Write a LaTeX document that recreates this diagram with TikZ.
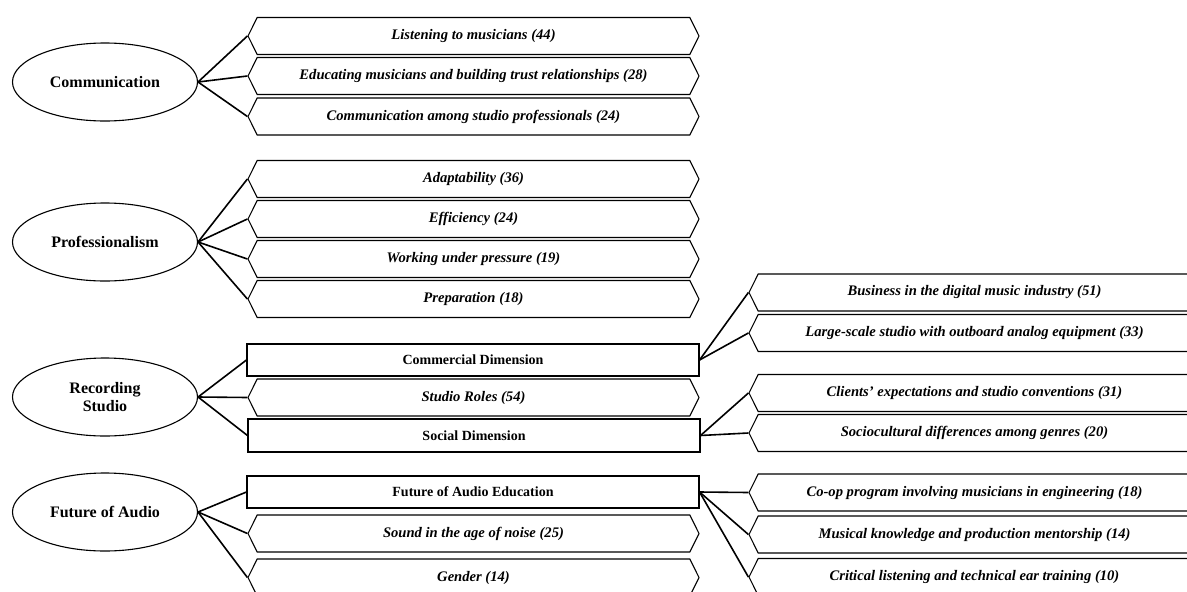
\documentclass[tikz,border=0pt]{standalone}
\usepackage{fontspec}
\setmainfont{Liberation Serif}
\usetikzlibrary{shapes.geometric,shapes.symbols}
\tikzset{
  theme/.style={draw, ellipse, line width=1.1pt, minimum width=185pt, minimum height=78pt, inner sep=0pt,
    font=\fontsize{16}{20}\selectfont\bfseries, align=center},
  hexbox/.style={draw, signal, signal to=east and west, signal pointer angle=127, line width=1.1pt,
    minimum width=451pt, minimum height=37pt, inner sep=0pt,
    font=\fontsize{14.6}{16}\selectfont\bfseries\itshape},
  rectbox/.style={draw, rectangle, line width=1.1pt, minimum width=452pt, minimum height=32pt, inner sep=0pt,
    font=\fontsize{14}{16}\selectfont\bfseries},
  link/.style={line width=1.6pt},
}
\begin{document}
\begin{tikzpicture}[x=1pt,y=-1pt]
\useasboundingbox (0,0) rectangle (1187,592);
\clip (0,0) rectangle (1187,592);
\fill[white] (0,0) rectangle (1187,592);

% themes
\node[theme] (com) at (105,82) {Communication};
\node[theme] (pro) at (105,242) {Professionalism};
\node[theme] (rec) at (105,397) {Recording\\[-2pt]Studio};
\node[theme] (fut) at (105,512) {Future of Audio};

% communication
\node[hexbox] (c1) at (473.5,36) {Listening to musicians (44)};
\node[hexbox] (c2) at (473.5,76) {Educating musicians and building trust relationships (28)};
\node[hexbox] (c3) at (473.5,116.5) {Communication among studio professionals (24)};

% professionalism
\node[hexbox] (p1) at (473.5,179) {Adaptability (36)};
\node[hexbox] (p2) at (473.5,219) {Efficiency (24)};
\node[hexbox] (p3) at (473.5,259) {Working under pressure (19)};
\node[hexbox] (p4) at (473.5,299) {Preparation (18)};

% recording studio
\node[rectbox] (r1) at (473,360) {Commercial Dimension};
\node[hexbox] (r2) at (473.5,397.5) {Studio Roles (54)};
\node[rectbox, minimum height=33pt] (r3) at (474,435.5) {Social Dimension};

% future of audio
\node[rectbox] (f1) at (473,492) {Future of Audio Education};
\node[hexbox] (f2) at (473.5,533.5) {Sound in the age of noise (25)};
\node[hexbox] (f3) at (473.5,577.5) {Gender (14)};

% right column
\node[hexbox] (b1) at (974.5,292.5) {Business in the digital music industry (51)};
\node[hexbox] (b2) at (974.5,333) {Large-scale studio with outboard analog equipment (33)};
\node[hexbox] (s1) at (974.5,393) {Clients’ expectations and studio conventions (31)};
\node[hexbox] (s2) at (974.5,433) {Sociocultural differences among genres (20)};
\node[hexbox] (e1) at (974.5,492.5) {Co-op program involving musicians in engineering (18)};
\node[hexbox] (e2) at (974.5,534.5) {Musical knowledge and production mentorship (14)};
\node[hexbox] (e3) at (974.5,577) {Critical listening and technical ear training (10)};

% connectors
\foreach \t in {c1,c2,c3} \draw[link] (com.east) -- (\t.west);
\foreach \t in {p1,p2,p3,p4} \draw[link] (pro.east) -- (\t.west);
\foreach \t in {r1,r2,r3} \draw[link] (rec.east) -- (\t.west);
\foreach \t in {f1,f2,f3} \draw[link] (fut.east) -- (\t.west);
\foreach \t in {b1,b2} \draw[link] (r1.east) -- (\t.west);
\foreach \t in {s1,s2} \draw[link] (r3.east) -- (\t.west);
\foreach \t in {e1,e2,e3} \draw[link] (f1.east) -- (\t.west);
\end{tikzpicture}
\end{document}
